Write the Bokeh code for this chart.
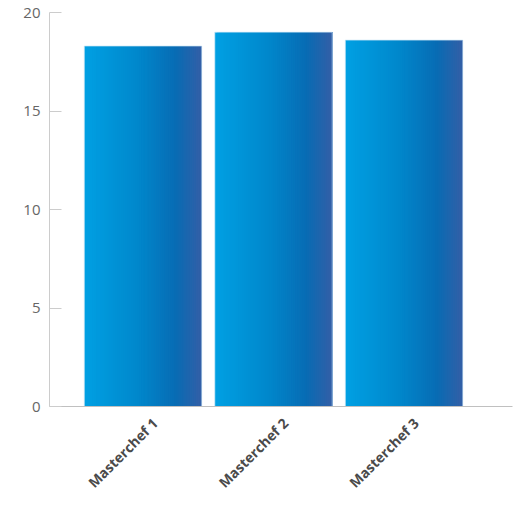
import numpy as np
from bokeh.plotting import figure
from bokeh.models import ColumnDataSource, Range1d, FixedTicker
from bokeh.embed import file_html
from bokeh.resources import INLINE
from math import pi

categories = ["Masterchef 1", "Masterchef 2", "Masterchef 3"]
values = [18.3, 19.0, 18.6]
y_ticks = [0, 5, 10, 15, 20]

# gradient stops (fraction across bar, rgb)
stops = [(0.0, (0, 160, 227)), (0.45, (0, 136, 204)), (0.78, (8, 108, 180)), (1.0, (52, 94, 166))]

def grad(t):
    for (t0, c0), (t1, c1) in zip(stops[:-1], stops[1:]):
        if t <= t1:
            f = (t - t0) / (t1 - t0)
            return "#%02x%02x%02x" % tuple(int(round(a + (b - a) * f)) for a, b in zip(c0, c1))
    return "#%02x%02x%02x" % stops[-1][1]

bar_w = 0.9
N = 60
xs = list(range(len(categories)))
left, right, top, color = [], [], [], []
for k in range(N):
    t = (k + 0.5) / N
    for i, v in zip(xs, values):
        left.append(i - bar_w / 2 + k * bar_w / N)
        right.append(i + bar_w / 2)
        top.append(v)
        color.append(grad(t))
src = ColumnDataSource(dict(left=left, right=right, top=top, bottom=[0] * len(top), color=color))

p = figure(width=520, height=510, output_backend="svg", toolbar_location=None,
           x_range=Range1d(-0.7165, 2.831), y_range=Range1d(0, 20),
           min_border_left=49, min_border_right=8, min_border_top=12, min_border_bottom=104)
p.outline_line_color = None
p.xgrid.grid_line_color = None
p.ygrid.grid_line_color = None

p.quad(left="left", right="right", top="top", bottom="bottom", fill_color="color",
       line_color=None, source=src)
outline = ColumnDataSource(dict(x=xs, top=values))
p.vbar(x="x", top="top", width=bar_w, source=outline, fill_color=None,
       line_color="#cfe8f7", line_alpha=0.7, line_width=1)

p.yaxis.ticker = FixedTicker(ticks=y_ticks)
p.yaxis.axis_line_color = "#cccccc"
p.yaxis.major_tick_line_color = "#cccccc"
p.yaxis.major_tick_in = 12
p.yaxis.major_tick_out = 0
p.yaxis.minor_tick_line_color = None
p.yaxis.major_label_standoff = 9
p.yaxis.major_label_text_font = "Open Sans"
p.yaxis.major_label_text_font_size = "15px"
p.yaxis.major_label_text_color = "#666666"

label_shift = 0.092
tick_pos = [i + label_shift for i in xs]
p.xaxis.ticker = FixedTicker(ticks=tick_pos)
p.xaxis.major_label_overrides = {t: c for t, c in zip(tick_pos, categories)}
p.xaxis.axis_line_color = "#c0c0c0"
p.xaxis.major_tick_line_color = None
p.xaxis.minor_tick_line_color = None
p.xaxis.major_label_orientation = pi / 4
p.xaxis.major_label_standoff = 8
p.xaxis.major_label_text_font = "Open Sans"
p.xaxis.major_label_text_font_style = "bold"
p.xaxis.major_label_text_font_size = "14px"
p.xaxis.major_label_text_color = "#4a4a4a"

open("out.html", "w").write(file_html(p, INLINE))
